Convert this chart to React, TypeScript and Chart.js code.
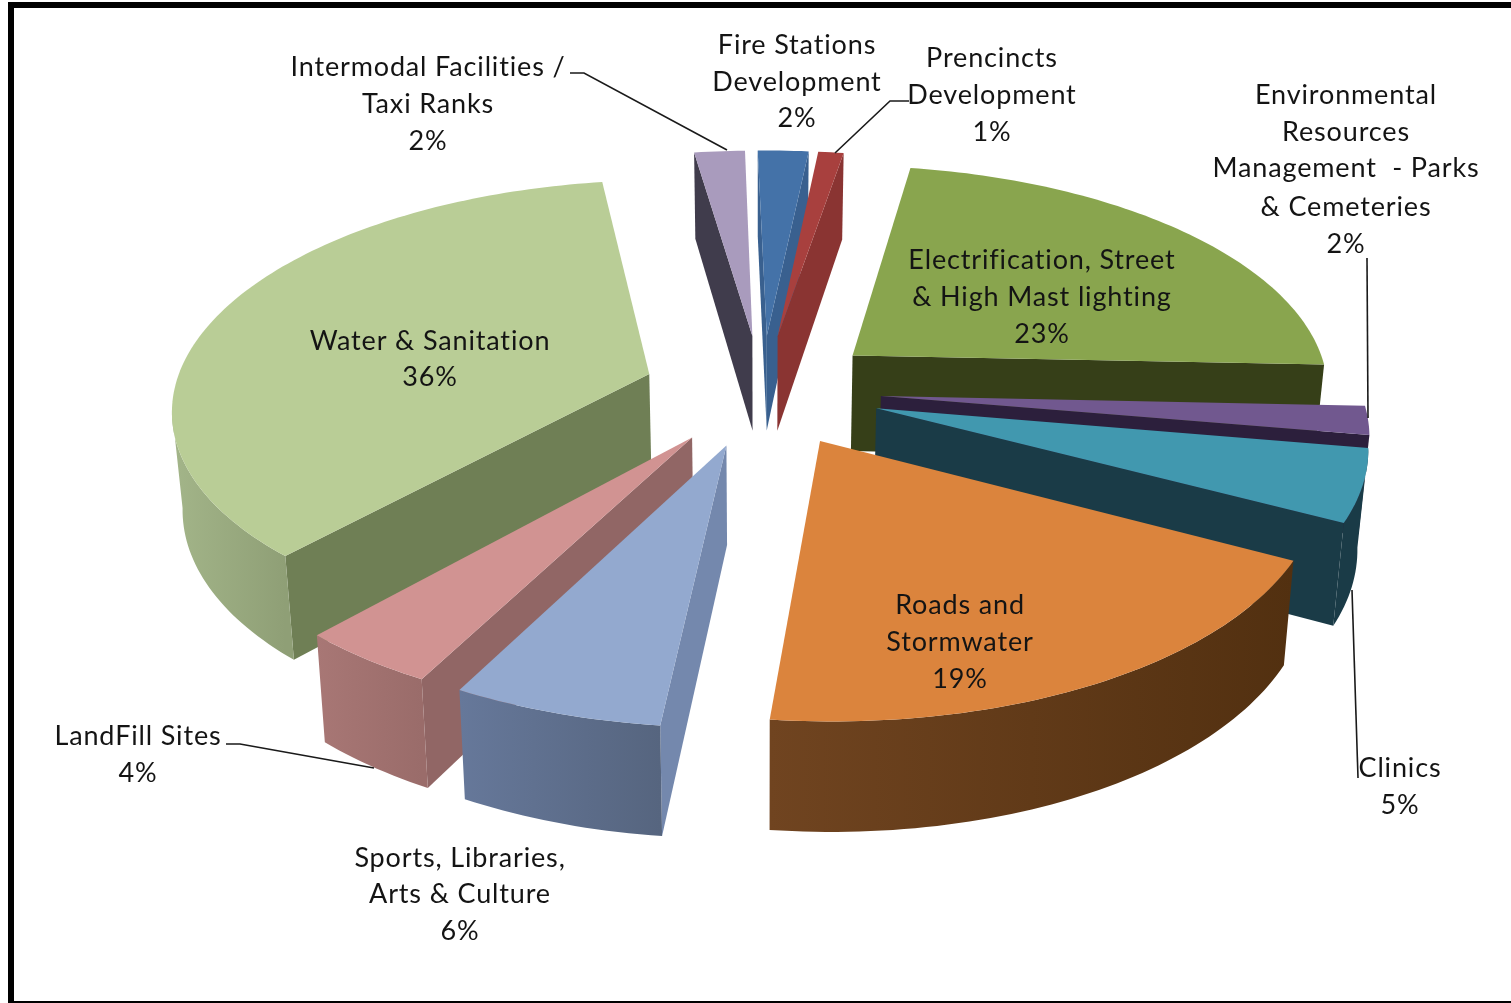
import React, { useEffect, useRef } from "react";
import { Chart, registerables } from "chart.js";

Chart.register(...registerables);

// Budget shares, clockwise from twelve o'clock.
const categories = [
  "Fire Stations Development",
  "Prencincts Development",
  "Electrification, Street & High Mast lighting",
  "Environmental Resources Management - Parks & Cemeteries",
  "Clinics",
  "Roads and Stormwater",
  "Sports, Libraries, Arts & Culture",
  "LandFill Sites",
  "Water & Sanitation",
  "Intermodal Facilities / Taxi Ranks",
];
const shares = [2, 1, 23, 2, 5, 19, 6, 4, 36, 2];

// Face colours, then radial wall and rim shading for each slice.
const topColors = ["#4472A8", "#A8403E", "#89A54E", "#71588F", "#4198AF", "#DB843D", "#93A9CF", "#D19392", "#B9CD96", "#A99BBD"];
const wallColors = ["#39608F", "#8A3432", "#363F18", "#2C1F3C", "#1A3B47", "#57330F", "#7488AD", "#916665", "#6F7F55", "#403C4C"];
const rimLeftColors = ["#39608F", "#8A3432", "#363F18", "#2C1F3C", "#1A3B47", "#704420", "#66789A", "#A87775", "#A3B589", "#403C4C"];
const rimRightColors = ["#39608F", "#8A3432", "#363F18", "#2C1F3C", "#1A3B47", "#523010", "#56657F", "#9A6C6A", "#8F9F76", "#403C4C"];

// Wrapped label lines, with each block's centre and line rows.
const labelLines = [
  ["Fire Stations", "Development"],
  ["Prencincts", "Development"],
  ["Electrification, Street", "& High Mast lighting"],
  ["Environmental", "Resources", "Management  - Parks", "& Cemeteries"],
  ["Clinics"],
  ["Roads and", "Stormwater"],
  ["Sports, Libraries,", "Arts & Culture"],
  ["LandFill Sites"],
  ["Water & Sanitation"],
  ["Intermodal Facilities /", "Taxi Ranks"],
];
const labelCentres = [797, 992, 1042, 1346, 1400, 960, 460, 138, 430, 428];
const labelRows = [
  [45, 82, 118],
  [58, 95, 132],
  [260, 297, 334],
  [95, 132, 168, 207, 244],
  [768, 805],
  [605, 642, 679],
  [858, 894, 931],
  [736, 773],
  [341, 377],
  [67, 104, 141],
];
const leaderLines = [
  [[570, 73], [584, 73], [727, 150]],
  [[909, 101], [890, 101], [835, 153]],
  [[1367, 258], [1368, 418]],
  [[1358, 778], [1352, 590]],
  [[226, 744], [240, 744], [374, 768]],
];

// View of the pie: tilt squash, perspective, slight yaw and roll, extruded thickness.
const TILT = 0.472;
const PERSPECTIVE = 0.14;
const YAW = 0.021;
const ROLL = 0.0095;
const THICKNESS = 97;
const THICKNESS_FALLOFF = 0.1;
const BASE_SHRINK = 0.982;
const PAINT_ORDER = [0, 9, 1, 2, 8, 3, 4, 7, 5, 6];

type Pt = { x: number; y: number; bx: number; by: number };

function sliceGeometry(el: any) {
  const { x, y, startAngle, endAngle, outerRadius } = el.getProps(["x", "y", "startAngle", "endAngle", "outerRadius"], true);
  const mid = (startAngle + endAngle) / 2;
  const e = el.options.offset / outerRadius;
  const project = (px: number, pz: number): Pt => {
    const w = 1 + PERSPECTIVE * pz;
    const sx = x + (outerRadius * (px - YAW * pz)) / w;
    const sy = y - (outerRadius * (TILT * pz + ROLL * px)) / w;
    return {
      x: sx,
      y: sy,
      bx: x + (sx - x) * BASE_SHRINK,
      by: sy + THICKNESS / (1 + THICKNESS_FALLOFF * pz),
    };
  };
  const ox = Math.cos(mid) * e;
  const oz = -Math.sin(mid) * e;
  const apex = project(ox, oz);
  const steps = Math.max(4, Math.ceil((endAngle - startAngle) / 0.02));
  const arc: Pt[] = [];
  for (let i = 0; i <= steps; i++) {
    const a = startAngle + ((endAngle - startAngle) * i) / steps;
    arc.push(project(ox + Math.cos(a), oz - Math.sin(a)));
  }
  return { apex, arc };
}

function fillPath(ctx: CanvasRenderingContext2D, pts: { x: number; y: number }[], fill: string | CanvasGradient) {
  ctx.beginPath();
  pts.forEach((p, i) => (i ? ctx.lineTo(p.x, p.y) : ctx.moveTo(p.x, p.y)));
  ctx.closePath();
  ctx.fillStyle = fill;
  ctx.fill();
}

function drawRadialWall(ctx: CanvasRenderingContext2D, apex: Pt, outer: Pt, inside: Pt, color: string) {
  const dx = outer.x - apex.x;
  const dy = outer.y - apex.y;
  const towardInside = dx * (inside.y - apex.y) - dy * (inside.x - apex.x);
  // The wall shows only when the slice lies above the edge on screen.
  if (dx * towardInside >= 0) return;
  fillPath(ctx, [apex, outer, { x: outer.bx, y: outer.by }, { x: apex.bx, y: apex.by }], color);
}

function drawRim(ctx: CanvasRenderingContext2D, arc: Pt[], left: string, right: string) {
  // The rim faces the viewer wherever the arc runs right to left.
  const run: Pt[] = [];
  for (let i = 0; i < arc.length - 1; i++) {
    if (arc[i + 1].x < arc[i].x) {
      if (!run.length) run.push(arc[i]);
      run.push(arc[i + 1]);
    }
  }
  if (run.length < 2) return;
  const xs = run.map((p) => p.x);
  const g = ctx.createLinearGradient(Math.min(...xs), 0, Math.max(...xs), 0);
  g.addColorStop(0, left);
  g.addColorStop(1, right);
  const bottom = run.map((p) => ({ x: p.bx, y: p.by })).reverse();
  fillPath(ctx, [...run, ...bottom], g);
}

const perspectivePie = {
  id: "perspectivePie",
  beforeDraw(chart: any) {
    const { ctx, width, height } = chart;
    ctx.save();
    ctx.fillStyle = "#ffffff";
    ctx.fillRect(0, 0, width, height);
    ctx.fillStyle = "#000000";
    ctx.fillRect(8, 2, width - 8, 6);
    ctx.fillRect(8, 2, 6, height - 2);
    ctx.fillRect(8, height - 2, width - 8, 2);
    ctx.restore();
  },
  beforeDatasetDraw(chart: any) {
    const { ctx } = chart;
    const meta = chart.getDatasetMeta(0);
    ctx.save();
    PAINT_ORDER.forEach((i) => {
      const el = meta.data[i];
      const { apex, arc } = sliceGeometry(el);
      const inside = arc[Math.floor(arc.length / 2)];
      drawRadialWall(ctx, apex, arc[0], inside, wallColors[i]);
      drawRadialWall(ctx, apex, arc[arc.length - 1], inside, wallColors[i]);
      drawRim(ctx, arc, rimLeftColors[i], rimRightColors[i]);
      fillPath(ctx, [apex, ...arc], el.options.backgroundColor);
    });
    ctx.restore();
    return false;
  },
  afterDraw(chart: any) {
    const { ctx } = chart;
    ctx.save();
    ctx.strokeStyle = "#1a1a1a";
    ctx.lineWidth = 1.6;
    leaderLines.forEach((line) => {
      ctx.beginPath();
      line.forEach(([x, y], i) => (i ? ctx.lineTo(x, y) : ctx.moveTo(x, y)));
      ctx.stroke();
    });
    ctx.fillStyle = "#141414";
    ctx.font = '27px Lato, "Open Sans", sans-serif';
    ctx.letterSpacing = "0.85px";
    ctx.textAlign = "center";
    ctx.textBaseline = "middle";
    categories.forEach((_, i) => {
      const texts = [...labelLines[i], `${shares[i]}%`];
      texts.forEach((t, j) => ctx.fillText(t, labelCentres[i], labelRows[i][j]));
    });
    ctx.restore();
  },
};

export default function App() {
  const canvasRef = useRef<HTMLCanvasElement>(null);
  useEffect(() => {
    const chart = new Chart(canvasRef.current!, {
      type: "pie",
      data: {
        labels: categories,
        datasets: [
          {
            data: shares,
            backgroundColor: topColors,
            borderWidth: 0,
            offset: 119,
          },
        ],
      },
      options: {
        responsive: false,
        animation: false,
        radius: 477,
        layout: { padding: { left: 13, bottom: 223 } },
        events: [],
        plugins: { legend: { display: false }, tooltip: { enabled: false } },
      },
      plugins: [perspectivePie],
    } as any);
    return () => chart.destroy();
  }, []);
  return (
    <div style={{ position: "fixed", left: 0, top: 0, width: 1511, height: 1003 }}>
      <canvas ref={canvasRef} width={1511} height={1003} style={{ display: "block", width: 1511, height: 1003 }} />
    </div>
  );
}
